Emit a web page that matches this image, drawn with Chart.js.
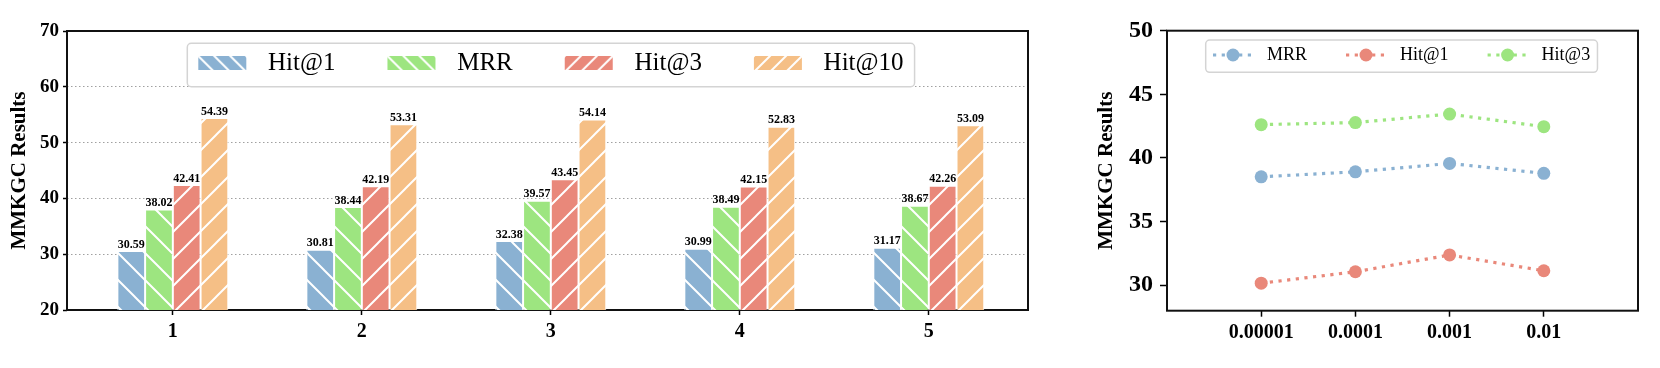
<!DOCTYPE html>
<html>
<head>
<meta charset="utf-8">
<script src="https://cdn.jsdelivr.net/npm/chart.js@4/dist/chart.umd.min.js"></script>
<style>
  html, body { margin: 0; padding: 0; background: #fff; }
  #wrap { position: relative; width: 1660px; height: 368px; }
  #barChart { position: absolute; left: 0; top: 0; }
  #lineChart { position: absolute; left: 1040px; top: 0; }
</style>
</head>
<body>
<div id="wrap">
  <canvas id="barChart" width="1040" height="368"></canvas>
  <canvas id="lineChart" width="620" height="368"></canvas>
</div>
<script>
// left panel: grouped bars
const groups = [1, 2, 3, 4, 5];
const hit1 = [30.59, 30.81, 32.38, 30.99, 31.17];
const mrr = [38.02, 38.44, 39.57, 38.49, 38.67];
const hit3 = [42.41, 42.19, 43.45, 42.15, 42.26];
const hit10 = [54.39, 53.31, 54.14, 52.83, 53.09];
const barTicks = [20, 30, 40, 50, 60, 70];

// right panel: learning-rate sweep
const lrLabels = ['0.00001', '0.0001', '0.001', '0.01'];
const lrMRR = [38.52, 38.91, 39.57, 38.79];
const lrHit1 = [30.16, 31.06, 32.38, 31.14];
const lrHit3 = [42.62, 42.78, 43.45, 42.46];
const lineTicks = [30, 35, 40, 45, 50];

const SERIF = '"Liberation Serif", "Times New Roman", serif';
const BLUE = '#8AB1D2', GREEN = '#9DE580', RED = '#E9887A', ORANGE = '#F5BF86';

function hatch(color, dir, size) {
    const c = document.createElement('canvas');
    c.width = size;
    c.height = size;
    const g = c.getContext('2d');
    g.fillStyle = color;
    g.fillRect(0, 0, size, size);
    g.strokeStyle = '#fff';
    g.lineWidth = 2;
    g.beginPath();
    if (dir === '/') {
        g.moveTo(0, size); g.lineTo(size, 0);
        g.moveTo(-3, 3); g.lineTo(3, -3);
        g.moveTo(size - 3, size + 3); g.lineTo(size + 3, size - 3);
    } else {
        g.moveTo(0, 0); g.lineTo(size, size);
        g.moveTo(size - 3, -3); g.lineTo(size + 3, 3);
        g.moveTo(-3, size - 3); g.lineTo(3, size + 3);
    }
    g.stroke();
    return g.createPattern(c, 'repeat');
}

const frame = {
    id: 'frame',
    beforeDatasetsDraw(chart) {
        const { ctx, chartArea: a } = chart;
        ctx.save();
        ctx.strokeStyle = '#111';
        ctx.lineWidth = 2;
        ctx.strokeRect(a.left, a.top, a.right - a.left, a.bottom - a.top);
        ctx.restore();
    }
};

const valueLabels = {
    id: 'valueLabels',
    afterDatasetsDraw(chart) {
        const ctx = chart.ctx;
        ctx.save();
        ctx.font = 'bold 12px ' + SERIF;
        ctx.fillStyle = '#000';
        ctx.textAlign = 'center';
        ctx.textBaseline = 'bottom';
        chart.data.datasets.forEach((ds, di) => {
            chart.getDatasetMeta(di).data.forEach((bar, i) => {
                ctx.fillText(ds.data[i].y.toFixed(2), bar.x, bar.y - 0.5);
            });
        });
        ctx.restore();
    }
};

// framed legend drawn inside the plot, matplotlib style
function boxLegend(cfg) {
    return {
        id: 'boxLegend',
        afterDraw(chart) {
            const ctx = chart.ctx;
            ctx.save();
            ctx.font = cfg.font;
            const widths = cfg.items.map(it => ctx.measureText(it.text).width);
            let w = cfg.pad * 2;
            widths.forEach((tw, i) => { w += cfg.handleW + cfg.textPad + tw + (i ? cfg.colSpace : 0); });
            ctx.beginPath();
            ctx.roundRect(cfg.x, cfg.y, w, cfg.h, 4);
            ctx.fillStyle = 'rgba(255,255,255,0.9)';
            ctx.fill();
            ctx.strokeStyle = '#d4d4d4';
            ctx.lineWidth = 1.5;
            ctx.stroke();
            let x = cfg.x + cfg.pad;
            cfg.items.forEach((it, i) => {
                it.draw(ctx, x, cfg.cy, cfg.handleW);
                x += cfg.handleW + cfg.textPad;
                ctx.fillStyle = '#000';
                ctx.textAlign = 'left';
                ctx.textBaseline = 'middle';
                ctx.fillText(it.text, x, cfg.cy);
                x += widths[i] + cfg.colSpace;
            });
            ctx.restore();
        }
    };
}

function patchItem(text, color, dir) {
    const pat = hatch(color, dir, 16);
    return {
        text,
        draw(ctx, x, cy, w) {
            ctx.save();
            ctx.translate(x, cy - 7);
            ctx.fillStyle = pat;
            ctx.fillRect(0, 0, w, 14);
            ctx.restore();
        }
    };
}

function markerItem(text, color) {
    return {
        text,
        draw(ctx, x, cy, w) {
            ctx.save();
            ctx.strokeStyle = color;
            ctx.lineWidth = 3.2;
            ctx.setLineDash([3.2, 5.5]);
            ctx.beginPath();
            ctx.moveTo(x, cy);
            ctx.lineTo(x + w, cy);
            ctx.stroke();
            ctx.setLineDash([]);
            ctx.fillStyle = color;
            ctx.beginPath();
            ctx.arc(x + w / 2, cy, 6.5, 0, Math.PI * 2);
            ctx.fill();
            ctx.restore();
        }
    };
}

function bar(label, values, color, dir) {
    return {
        label,
        data: values.map((v, i) => ({ x: groups[i], y: v })),
        backgroundColor: hatch(color, dir, 27),
        borderColor: '#fff',
        borderWidth: 1,
        borderSkipped: false
    };
}

const tickFont = size => ({ family: SERIF, size, weight: 'bold' });

new Chart(document.getElementById('barChart'), {
    type: 'bar',
    data: {
        datasets: [
            bar('Hit@1', hit1, BLUE, '\\'),
            bar('MRR', mrr, GREEN, '\\'),
            bar('Hit@3', hit3, RED, '/'),
            bar('Hit@10', hit10, ORANGE, '/')
        ]
    },
    options: {
        responsive: false,
        animation: false,
        categoryPercentage: 0.587,
        barPercentage: 1,
        layout: { padding: { top: 31, right: 12, left: 0, bottom: 0 } },
        plugins: { legend: { display: false }, tooltip: { enabled: false } },
        scales: {
            x: {
                type: 'linear',
                offset: false,
                min: 0.44,
                max: 5.525,
                afterBuildTicks: s => { s.ticks = groups.map(v => ({ value: v })); },
                afterFit: s => { s.height = 58; },
                ticks: { font: tickFont(20), color: '#000', padding: 5, maxRotation: 0, autoSkip: false, includeBounds: false, callback: v => String(v) },
                grid: { offset: false, drawOnChartArea: false, tickLength: 5, tickColor: '#000', tickWidth: 1.5 },
                border: { display: false }
            },
            y: {
                min: barTicks[0],
                max: barTicks[barTicks.length - 1],
                afterBuildTicks: s => { s.ticks = barTicks.map(v => ({ value: v })); },
                afterFit: s => { s.width = 67; },
                ticks: { font: tickFont(19), color: '#000', padding: 4 },
                grid: {
                    color: c => (c.tick && (c.tick.value === 20 || c.tick.value === 70)) ? 'rgba(0,0,0,0)' : '#a0a0a0',
                    lineWidth: 1,
                    tickLength: 4,
                    tickColor: '#000',
                    tickWidth: 1.5,
                    tickBorderDash: []
                },
                border: { display: false, dash: [1.5, 2.5] },
                title: { display: true, text: 'MMKGC Results', color: '#000', font: tickFont(21), padding: { top: 7, bottom: 0 } }
            }
        }
    },
    plugins: [frame, valueLabels, boxLegend({
        x: 187.3, y: 43.3, h: 43.4, cy: 63, pad: 11,
        handleW: 48, textPad: 21.7, colSpace: 52,
        font: '25px ' + SERIF,
        items: [
            patchItem('Hit@1', BLUE, '\\'),
            patchItem('MRR', GREEN, '\\'),
            patchItem('Hit@3', RED, '/'),
            patchItem('Hit@10', ORANGE, '/')
        ]
    })]
});

function line(label, values, color) {
    return {
        label,
        data: values.map((v, i) => ({ x: i, y: v })),
        borderColor: color,
        backgroundColor: color,
        borderWidth: 3.2,
        borderDash: [3.2, 5.5],
        pointRadius: 6.5,
        pointBorderWidth: 0,
        pointBackgroundColor: color,
        tension: 0,
        fill: false
    };
}

new Chart(document.getElementById('lineChart'), {
    type: 'line',
    data: {
        datasets: [
            line('MRR', lrMRR, BLUE),
            line('Hit@1', lrHit1, RED),
            line('Hit@3', lrHit3, GREEN)
        ]
    },
    options: {
        responsive: false,
        animation: false,
        layout: { padding: { top: 30.7, right: 22, left: 0, bottom: 0 } },
        plugins: { legend: { display: false }, tooltip: { enabled: false } },
        scales: {
            x: {
                type: 'linear',
                min: -1,
                max: 4,
                afterBuildTicks: s => { s.ticks = lrLabels.map((l, i) => ({ value: i })); },
                afterFit: s => { s.height = 57.3; },
                ticks: { font: tickFont(20), color: '#000', padding: 4, maxRotation: 0, autoSkip: false, callback: v => lrLabels[v] },
                grid: { drawOnChartArea: false, tickLength: 6, tickColor: '#000', tickWidth: 1.5 },
                border: { display: false }
            },
            y: {
                min: 28,
                max: 50,
                afterBuildTicks: s => { s.ticks = lineTicks.map(v => ({ value: v })); },
                afterFit: s => { s.width = 127; },
                ticks: { font: tickFont(24), color: '#000', padding: 7 },
                grid: { drawOnChartArea: false, tickLength: 7, tickColor: '#000', tickWidth: 1.5 },
                border: { display: false },
                title: { display: true, text: 'MMKGC Results', color: '#000', font: tickFont(21), padding: { top: 54.4, bottom: 0 } }
            }
        }
    },
    plugins: [frame, boxLegend({
        x: 165.7, y: 40, h: 32.3, cy: 55, pad: 7.3,
        handleW: 40, textPad: 14, colSpace: 39,
        font: '18px ' + SERIF,
        items: [
            markerItem('MRR', BLUE),
            markerItem('Hit@1', RED),
            markerItem('Hit@3', GREEN)
        ]
    })]
});
</script>
</body>
</html>
